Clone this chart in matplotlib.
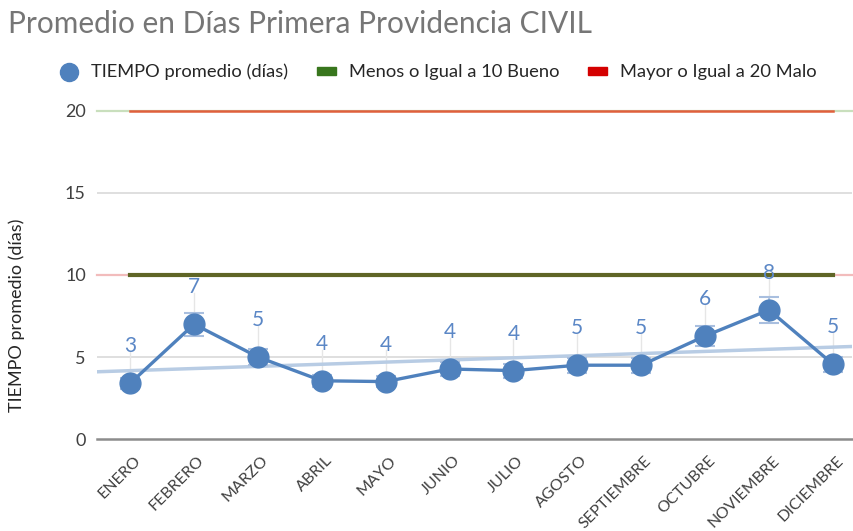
import matplotlib
matplotlib.use("Agg")
import matplotlib.pyplot as plt
import numpy as np
from matplotlib.lines import Line2D
from matplotlib.patches import Rectangle
from matplotlib.transforms import ScaledTranslation

months = ["ENERO", "FEBRERO", "MARZO", "ABRIL", "MAYO", "JUNIO", "JULIO",
          "AGOSTO", "SEPTIEMBRE", "OCTUBRE", "NOVIEMBRE", "DICIEMBRE"]
tiempo = [3.4, 7.0, 5.0, 3.55, 3.5, 4.27, 4.17, 4.5, 4.5, 6.28, 7.87, 4.57]
errores = [0.34, 0.70, 0.50, 0.36, 0.35, 0.43, 0.42, 0.45, 0.45, 0.63, 0.79, 0.46]
etiquetas = ["3", "7", "5", "4", "4", "4", "4", "5", "5", "6", "8", "5"]
bueno = [10] * 12
malo = [20] * 12
yticks = [0, 5, 10, 15, 20]

plt.rcParams['font.family'] = ['Lato', 'DejaVu Sans']

fig = plt.figure(figsize=(8.54, 5.31), dpi=100)
ax = fig.add_axes([97/854, 1-439/531, 755/854, 328/531])

x = np.arange(len(months))
ax.set_xlim(-0.52, 11.3)
ax.set_ylim(0, 20)

# grid
for yv in yticks[1:]:
    ax.axhline(yv, color="#d9d9d9", lw=1.2, zorder=0)
ax.axhline(0, color="#8c8c8c", lw=1.8, zorder=1, clip_on=False)

# faint full-width segments
ax.axhline(20, color="#c9dfbd", lw=1.6, zorder=1, clip_on=False)
ax.axhline(10, color="#f2bcbc", lw=1.6, zorder=1, clip_on=False)

# thresholds
ax.plot(x, malo, color="#e0603c", lw=1.8, zorder=2, clip_on=False)
ax.plot(x, bueno, color="#5f6526", lw=3.0, zorder=2, clip_on=False)

# trend line
coef = np.polyfit(x, tiempo, 1)
xt = np.array(ax.get_xlim())
ax.plot(xt, np.polyval(coef, xt), color="#b8cce4", lw=2.5, zorder=3)

# leader lines and labels
for xi, yi, lab in zip(x, tiempo, etiquetas):
    ax.plot([xi, xi], [yi, yi + 1.9], color="#e6e6e6", lw=1.0, zorder=2)
    ax.annotate(lab, (xi, yi), xytext=(0, 26.5), textcoords="offset points",
                ha="center", va="center", fontsize=15, color="#5b87c6", zorder=6)

# error bars and main series
ax.errorbar(x, tiempo, yerr=errores, fmt="none", ecolor="#a9bfdf", elinewidth=1.2,
            capsize=7, capthick=1.5, zorder=4)
ax.plot(x, tiempo, color="#4f81bd", lw=2.4, marker="o", markersize=15,
        zorder=5)

ax.tick_params(axis="both", length=0)
ax.tick_params(axis="y", pad=8)
ax.tick_params(axis="x", pad=14)
ax.set_yticks(yticks)
ax.set_yticklabels([str(v) for v in yticks], fontsize=13, color="#404040")
ax.set_xticks(x)
ax.set_xticklabels(months, rotation=45, ha="right", va="center",
                   rotation_mode="anchor", fontsize=11.5, color="#404040")
shift = ScaledTranslation(8/100, 0, fig.dpi_scale_trans)
for lbl in ax.get_xticklabels():
    lbl.set_transform(lbl.get_transform() + shift)
for s in ax.spines.values():
    s.set_visible(False)

fig.text(17/854, 1-315/531, "TIEMPO promedio (días)", rotation=90,
         ha="center", va="center", fontsize=13, color="#262626")

fig.text(8/854, 1-24/531, "Promedio en Días Primera Providencia CIVIL",
         ha="left", va="center", fontsize=21.5, color="#767676")

# legend
handles = [
    Line2D([], [], marker="o", color="none", markerfacecolor="#4f81bd",
           markeredgecolor="#4f81bd", markersize=13),
    Rectangle((0, 0), 1, 1, color="#38761d"),
    Rectangle((0, 0), 1, 1, color="#d40000"),
]
labels = ["TIEMPO promedio (días)", "Menos o Igual a 10 Bueno", "Mayor o Igual a 20 Malo"]
fig.legend(handles, labels, loc="center", bbox_to_anchor=(438/854, 1-72/531),
           ncol=3, frameon=False, fontsize=13.2, handlelength=1.0, handleheight=0.3,
           columnspacing=1.6, handletextpad=0.7, labelcolor="#262626")

fig.savefig("out.png", dpi=100)
